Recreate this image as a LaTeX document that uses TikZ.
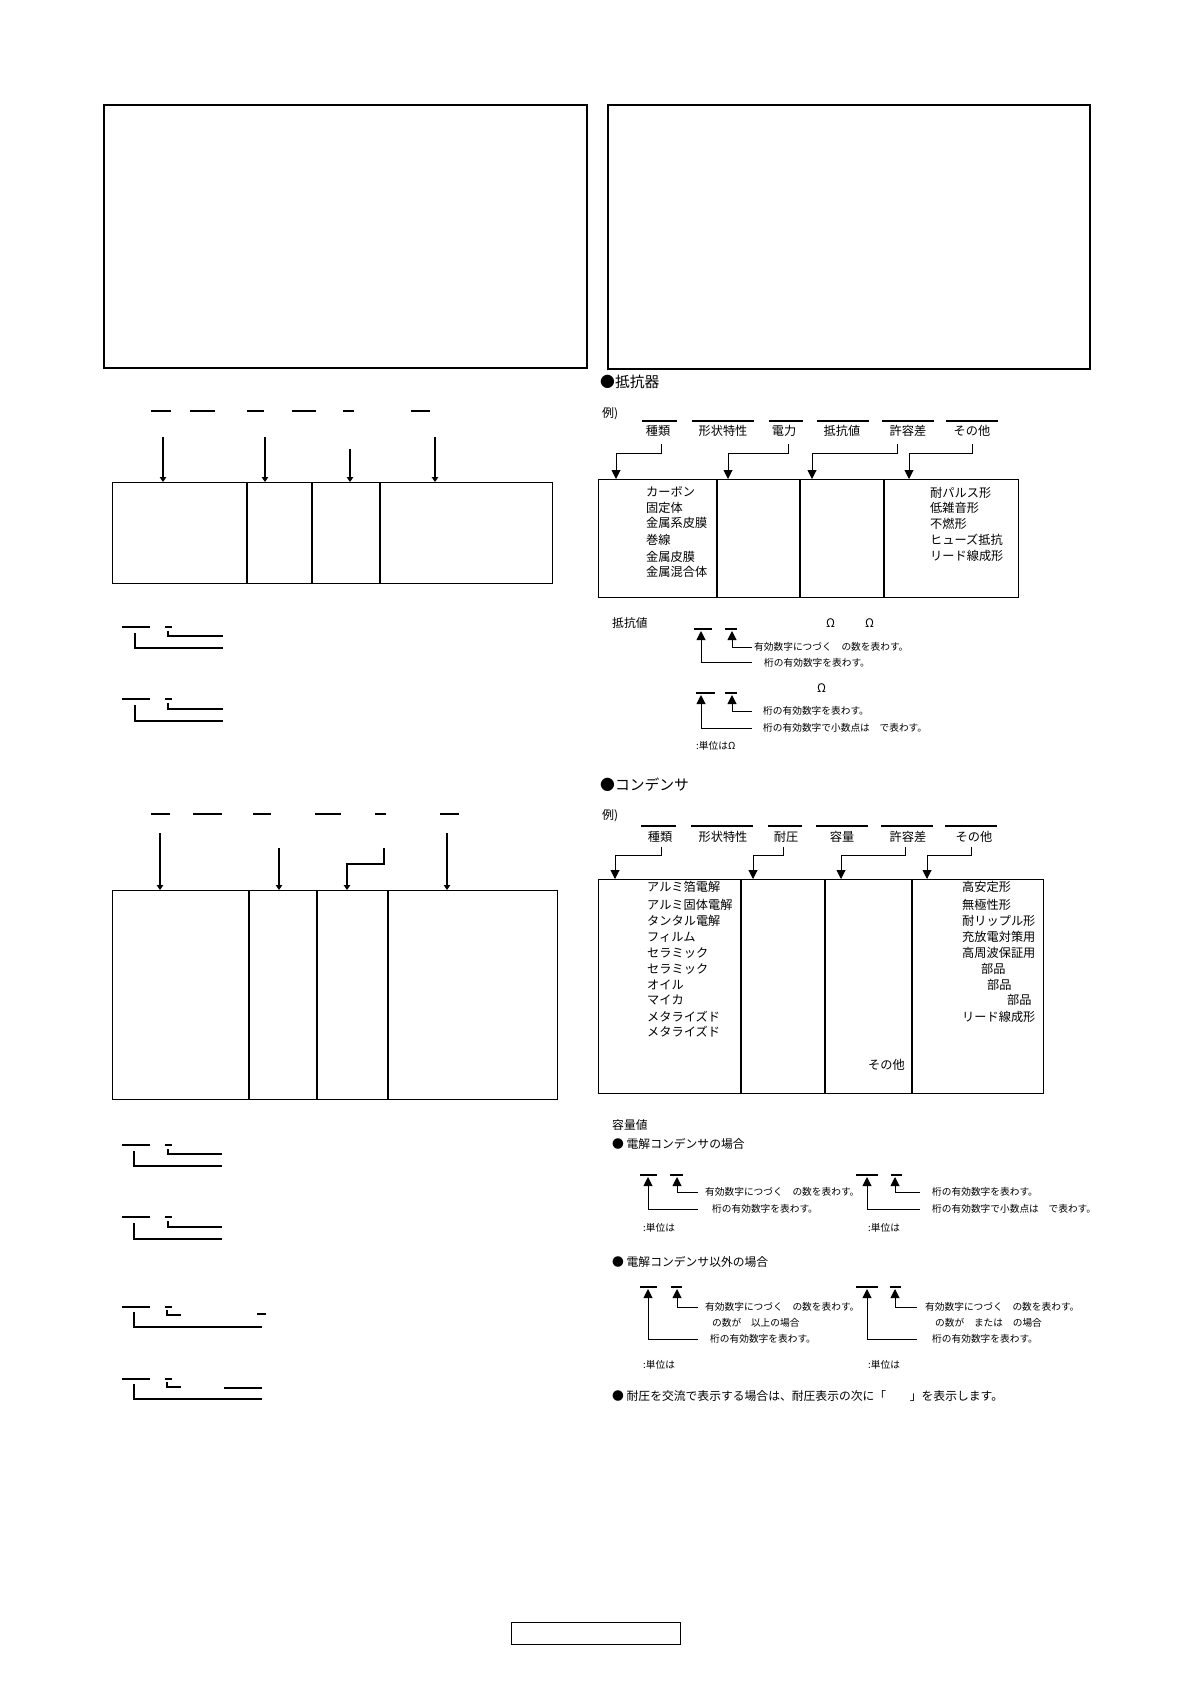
\documentclass[tikz,border=0pt]{standalone}
\usepackage{fontspec}
\setmainfont{Noto Sans CJK JP}
\usetikzlibrary{arrows.meta, positioning, calc}

\tikzstyle{frame} = [draw, line width=2pt, inner sep=0, anchor=north west]
\tikzstyle{tbl} = [draw, line width=1.4pt, inner sep=0, anchor=north west]
\tikzstyle{bar} = [line width=1.1pt]
\tikzstyle{boldbar} = [line width=2.6pt]
\tikzstyle{head} = [inner sep=0, anchor=west, font=\fontsize{14.8}{14.8}\selectfont, text height=13pt, text depth=1.8pt]
\tikzstyle{lbl} = [inner sep=0, anchor=west, font=\fontsize{12.2}{12.2}\selectfont, text height=10.7pt, text depth=1.5pt]
\tikzstyle{mid} = [inner sep=0, anchor=west, font=\fontsize{11.8}{11.8}\selectfont, text height=10.4pt, text depth=1.4pt]
\tikzstyle{note} = [inner sep=0, anchor=west, font=\fontsize{9.7}{9.7}\selectfont, text height=8.5pt, text depth=1.2pt]
\tikzstyle{arrow} = [line width=1pt, -{Triangle[width=9pt,length=9pt]}]
\tikzstyle{smallarrow} = [line width=1.1pt, -{Triangle[width=6.5pt,length=5pt]}]

\begin{document}
\begin{tikzpicture}[x=1pt, y=-1pt]
    \useasboundingbox (0,0) rectangle (1192,1684);

    % --- Frames at the top and the page box ---
    \node (frameL) [frame, minimum width=483pt, minimum height=263pt] at (103,104) {};
    \node (frameR) [frame, minimum width=482pt, minimum height=264pt] at (607,104) {};
    \node (pagebox) [frame, line width=1.3pt, minimum width=169pt, minimum height=22pt] at (511,1622) {};

    % --- Left: first code table ---
    \foreach \a/\b in {151/171,190/215,247/264,292/316,343/354,411/430}
        \draw[bar] (\a,411) -- (\b,411);
    \node (tabA) [tbl, minimum width=440pt, minimum height=101pt] at (112,482) {};
    \foreach \x in {247,312,380}
        \draw[line width=1.4pt] (\x,0 |- tabA.north) -- (\x,0 |- tabA.south);
    \foreach \i/\x/\y/\w in {1/163/437/1.1pt,2/265/437/1.1pt,3/350/449/2pt,4/435/437/2pt} {
        \coordinate (ta\i) at (\x,\y);
        \draw[smallarrow, line width=\w] (ta\i) -- (ta\i |- tabA.north);
    }

    % --- Left: brackets under the first table ---
    \foreach \Y/\s/\b in {627/9/21,699/10/22} {
        \draw[bar] (122,\Y) -- (150,\Y);
        \draw[bar] (165,\Y) -- (172,\Y);
        \draw[bar] (168,\Y+4) |- (223,\Y+\s);
        \draw[bar] (135,\Y+6) |- (223,\Y+\b);
    }

    % --- Left: second code table ---
    \foreach \a/\b in {151/170,193/222,253/271,315/341,375/386,440/459}
        \draw[bar] (\a,814) -- (\b,814);
    \node (tabB) [tbl, minimum width=445pt, minimum height=209pt] at (112,890) {};
    \foreach \x in {249,317,388}
        \draw[line width=1.4pt] (\x,0 |- tabB.north) -- (\x,0 |- tabB.south);
    \foreach \i/\x/\y in {1/160/833,2/279/848,4/447/833} {
        \coordinate (tb\i) at (\x,\y);
        \draw[smallarrow] (tb\i) -- (tb\i |- tabB.north);
    }
    \coordinate (tb3) at (384,848);
    \coordinate (tb3m) at (347,864);
    \draw[smallarrow, line width=2pt] (tb3) |- (tb3m) -- (tb3m |- tabB.north);

    % --- Left: brackets under the second table ---
    \foreach \Y/\s/\b in {1145/9/21,1217/10/22} {
        \draw[bar] (122,\Y) -- (150,\Y);
        \draw[bar] (165,\Y) -- (172,\Y);
        \draw[bar] (168,\Y+4) |- (222,\Y+\s);
        \draw[bar] (134,\Y+6) |- (222,\Y+\b);
    }
    \foreach \Y in {1307,1379} {
        \draw[bar] (122,\Y) -- (150,\Y);
        \draw[bar] (165,\Y) -- (172,\Y);
        \draw[bar] (167,\Y+3) |- (181,\Y+8);
        \draw[bar] (134,\Y+5) |- (262,\Y+20);
    }
    \draw[bar] (257,1314) -- (266,1314);
    \draw[boldbar] (224,1388) -- (262,1388);

    % --- Right: resistors ---
    \node (hRes) [head] at (600,382) {●抵抗器};
    \node (exRes) [note, font=\fontsize{12}{12}\selectfont] at (602,414) {例)};
    \foreach \a/\b in {642/677,692/754,946/998}
        \draw[bar] (\a,421) -- (\b,421);
    \foreach \a/\b in {769/803,817/869,882/934}
        \draw[boldbar] (\a,421) -- (\b,421);
    \foreach \n/\x/\t in {1/658/種類,2/723/形状特性,3/784/電力,4/842/抵抗値,5/908/許容差,6/972/その他}
        \node (rl\n) [lbl, anchor=center] at (\x,431) {\t};
    \node (tabR) [tbl, minimum width=420pt, minimum height=118pt] at (598,479) {};
    \foreach \x in {717,800,884}
        \draw[line width=1.4pt] (\x,0 |- tabR.north) -- (\x,0 |- tabR.south);
    \foreach \i/\sx/\ex in {1/661/616,2/788/728,3/897/812,4/972/909} {
        \coordinate (rs\i) at (\sx,444);
        \coordinate (rm\i) at (\ex,453);
        \draw[arrow] (rs\i) |- (rm\i) -- (rm\i |- tabR.north);
    }
    \foreach \n/\y/\t in {1/492/カーボン,2/508/固定体,3/523/金属系皮膜,4/540/巻線,5/557/金属皮膜,6/572/金属混合体}
        \node (rk\n) [lbl] at (646,\y) {\t};
    \foreach \n/\y/\t in {1/493/耐パルス形,2/508/低雑音形,3/524/不燃形,4/540/ヒューズ抵抗,5/556/リード線成形}
        \node (ro\n) [lbl] at (930,\y) {\t};

    % Resistance value
    \node (rvHead) [mid] at (612,623) {抵抗値};
    \node (rvOhmA) [mid] at (826,623) {Ω};
    \node (rvOhmB) [mid] at (865,623) {Ω};
    \node (rvOhmC) [mid] at (817,688) {Ω};
    \foreach \a/\b/\y in {694/712/629,725/737/629,696/715/693,725/737/693}
        \draw[boldbar] (\a,\y) -- (\b,\y);
    \foreach \i/\sx/\sy/\ex/\ey in {1/752/662/701/631,2/752/647/732/631,3/752/728/701/695,4/752/711/732/695} {
        \coordinate (rvs\i) at (\sx,\sy);
        \coordinate (rve\i) at (\ex,\ey);
        \draw[arrow] (rvs\i) -| (rve\i);
    }
    \node (rvT1) [note] at (754,647) {有効数字につづく　の数を表わす。};
    \node (rvT2) [note] at (764,663) {桁の有効数字を表わす。};
    \node (rvT3) [note] at (763,711) {桁の有効数字を表わす。};
    \node (rvT4) [note] at (763,728) {桁の有効数字で小数点は　で表わす。};
    \node (rvUnit) [note] at (696,746) {:単位はΩ};

    % --- Right: capacitors ---
    \node (hCap) [head] at (600,785) {●コンデンサ};
    \node (exCap) [note, font=\fontsize{12}{12}\selectfont] at (602,816) {例)};
    \foreach \a/\b in {641/676,691/753,881/933,945/997}
        \draw[bar] (\a,826) -- (\b,826);
    \foreach \a/\b in {768/802,816/868}
        \draw[boldbar] (\a,826) -- (\b,826);
    \foreach \n/\x/\t in {1/660/種類,2/723/形状特性,3/786/耐圧,4/842/容量,5/908/許容差,6/974/その他}
        \node (cl\n) [lbl, anchor=center] at (\x,837) {\t};
    \node (tabC) [tbl, minimum width=445pt, minimum height=214pt] at (598,879) {};
    \foreach \x in {741,825,912}
        \draw[line width=1.4pt] (\x,0 |- tabC.north) -- (\x,0 |- tabC.south);
    \foreach \i/\sx/\ex in {1/661/615,2/783/753,3/905/841,4/971/927} {
        \coordinate (cs\i) at (\sx,847);
        \coordinate (cm\i) at (\ex,855);
        \draw[arrow] (cs\i) |- (cm\i) -- (cm\i |- tabC.north);
    }
    \foreach \n/\y/\t in {1/887/アルミ箔電解,2/905/アルミ固体電解,3/921/タンタル電解,4/937/フィルム,5/953/セラミック,6/969/セラミック,7/985/オイル,8/1000/マイカ,9/1017/メタライズド,10/1032/メタライズド}
        \node (ck\n) [lbl] at (647,\y) {\t};
    \foreach \n/\x/\y/\t in {1/962/887/高安定形,2/962/905/無極性形,3/962/921/耐リップル形,4/962/937/充放電対策用,5/962/953/高周波保証用,6/981/969/部品,7/987/985/部品,8/1007/1000/部品,9/962/1017/リード線成形}
        \node (co\n) [lbl] at (\x,\y) {\t};
    \node (cOther) [lbl] at (868,1065) {その他};

    % Capacitance value
    \node (cvHead) [mid] at (612,1125) {容量値};
    \node (cvElec) [mid] at (612,1144) {● 電解コンデンサの場合};
    \draw[bar] (640,1175) -- (657,1175);
    \foreach \a/\b in {670/683,856/878,891/902}
        \draw[boldbar] (\a,1175) -- (\b,1175);
    \foreach \i/\sx/\sy/\ex in {1/698/1209/648,2/698/1192/677,3/920/1209/867,4/920/1192/895} {
        \coordinate (cvs\i) at (\sx,\sy);
        \coordinate (cve\i) at (\ex,1177);
        \draw[arrow] (cvs\i) -| (cve\i);
    }
    \node (cvT1) [note] at (705,1192) {有効数字につづく　の数を表わす。};
    \node (cvT2) [note] at (712,1209) {桁の有効数字を表わす。};
    \node (cvT3) [note] at (932,1192) {桁の有効数字を表わす。};
    \node (cvT4) [note] at (932,1209) {桁の有効数字で小数点は　で表わす。};
    \node (cvUnitA) [note] at (643,1228) {:単位は};
    \node (cvUnitB) [note] at (868,1228) {:単位は};

    \node (cvOther) [mid] at (612,1262) {● 電解コンデンサ以外の場合};
    \foreach \a/\b in {640/657,671/682,856/878,890/901}
        \draw[boldbar] (\a,1287) -- (\b,1287);
    \foreach \i/\sx/\sy/\ex in {5/698/1339/648,6/698/1307/677,7/917/1339/867,8/917/1307/895} {
        \coordinate (cvs\i) at (\sx,\sy);
        \coordinate (cve\i) at (\ex,1289);
        \draw[arrow] (cvs\i) -| (cve\i);
    }
    \node (cvT5) [note] at (705,1307) {有効数字につづく　の数を表わす。};
    \node (cvT6) [note] at (712,1323) {の数が　以上の場合};
    \node (cvT7) [note] at (710,1339) {桁の有効数字を表わす。};
    \node (cvT8) [note] at (925,1307) {有効数字につづく　の数を表わす。};
    \node (cvT9) [note] at (935,1323) {の数が　または　の場合};
    \node (cvT10) [note] at (932,1339) {桁の有効数字を表わす。};
    \node (cvUnitC) [note] at (643,1365) {:単位は};
    \node (cvUnitD) [note] at (868,1365) {:単位は};

    \node (acNote) [mid] at (612,1396) {● 耐圧を交流で表示する場合は、耐圧表示の次に「　　」を表示します。};

\end{tikzpicture}
\end{document}
